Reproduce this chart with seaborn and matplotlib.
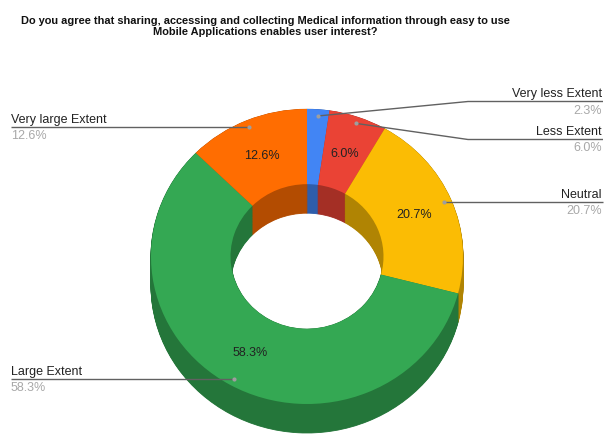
import numpy as np
import matplotlib
matplotlib.use("Agg")
import matplotlib.pyplot as plt
import matplotlib.colors as mcolors
import seaborn as sns

# survey answers, clockwise from 12 o'clock
categories = ["Very less Extent", "Less Extent", "Neutral", "Large Extent", "Very large Extent"]
shares = [2.3, 6.0, 20.7, 58.3, 12.6]
colors = ["#4285F4", "#EA4335", "#FBBC04", "#34A853", "#FF6D01"]
title = ("Do you agree that sharing, accessing and collecting Medical information through easy to use\n"
         "Mobile Applications enables user interest?")

sns.set_theme(style="white")
plt.rcParams["font.family"] = ["Liberation Sans", "DejaVu Sans"]

W, H = 604, 435
fig = plt.figure(figsize=(W / 100, H / 100), dpi=100)
fig.patch.set_facecolor("white")

# geometry of the tilted donut (pixels)
cx, cy = 307, 257.5
R, r_in = 156, 76.5
squash = 147.5 / 156          # vertical / horizontal radius
depth = 29

ax = fig.add_axes([0, 0, 1, 1])
cyd = (H - cy) / squash

def darker(c, f=0.7):
    rgb = np.array(mcolors.to_rgb(c))
    return tuple(rgb * f)

dark = [darker(c) for c in colors]

# side walls: stack of darker rings moving up
for d in np.arange(depth / squash, 0, -0.8):
    ax.pie(shares, colors=dark, radius=R, center=(cx, cyd - d), startangle=90,
           counterclock=False,
           wedgeprops=dict(width=R - r_in, linewidth=0.6, edgecolor=None))
    for w, c in zip(ax.patches[-len(shares):], dark):
        w.set_edgecolor(c)

wedges, _ = ax.pie(shares, colors=colors, radius=R, center=(cx, cyd), startangle=90,
                   counterclock=False, wedgeprops=dict(width=R - r_in, linewidth=0))
ax.set_aspect("auto")
ax.set_xlim(0, W)
ax.set_ylim(0, H / squash)
ax.axis("off")

# overlay in pixel coordinates for labels and leader lines
ov = fig.add_axes([0, 0, 1, 1], facecolor="none")
ov.set_xlim(0, W)
ov.set_ylim(H, 0)
ov.axis("off")

def to_px(rad, ang):
    a = np.deg2rad(ang)
    return cx + rad * np.cos(a), cy - rad * squash * np.sin(a)

mids = [(w.theta1 + w.theta2) / 2 for w in wedges]

# percentages on the ring
for share, ang in zip(shares, mids):
    if share < 3:
        continue
    x, y = to_px((R + r_in) / 2, ang)
    ov.text(x, y, f"{share:.1f}%", ha="center", va="center", fontsize=9, color="#222222")

# outside labels: side, y of the label line (None -> straight from anchor)
label_side = ["right", "right", "right", "left", "left"]
label_line_y = [102.5, 140.5, None, None, None]
line_col = "#616161"
for name, share, ang, side, ly in zip(categories, shares, mids, label_side, label_line_y):
    ax_, ay_ = to_px(149, ang)
    ly = ay_ if ly is None else ly
    if side == "right":
        xs = [ax_, 468, W - 1] if ly != ay_ else [ax_, W - 1]
        ys = [ay_, ly, ly] if ly != ay_ else [ay_, ly]
        tx, ha = W - 2, "right"
    else:
        xs, ys = [ax_, 11], [ay_, ly]
        tx, ha = 11, "left"
    ov.plot(xs, ys, color=line_col, lw=1.0, solid_capstyle="butt")
    ov.plot([ax_], [ay_], "o", ms=3, color="#9e9e9e", mec="none")
    ov.text(tx, ly - 2, name, ha=ha, va="bottom", fontsize=9, color="#222222")
    ov.text(tx, ly + 2, f"{share:.1f}%", ha=ha, va="top", fontsize=9, color="#a8a8a8")

ov.text(265, 26.5, title, ha="center", va="center", fontsize=7.9, fontweight="bold",
        color="#111111", linespacing=1.15)

fig.savefig("out.png", dpi=100)
